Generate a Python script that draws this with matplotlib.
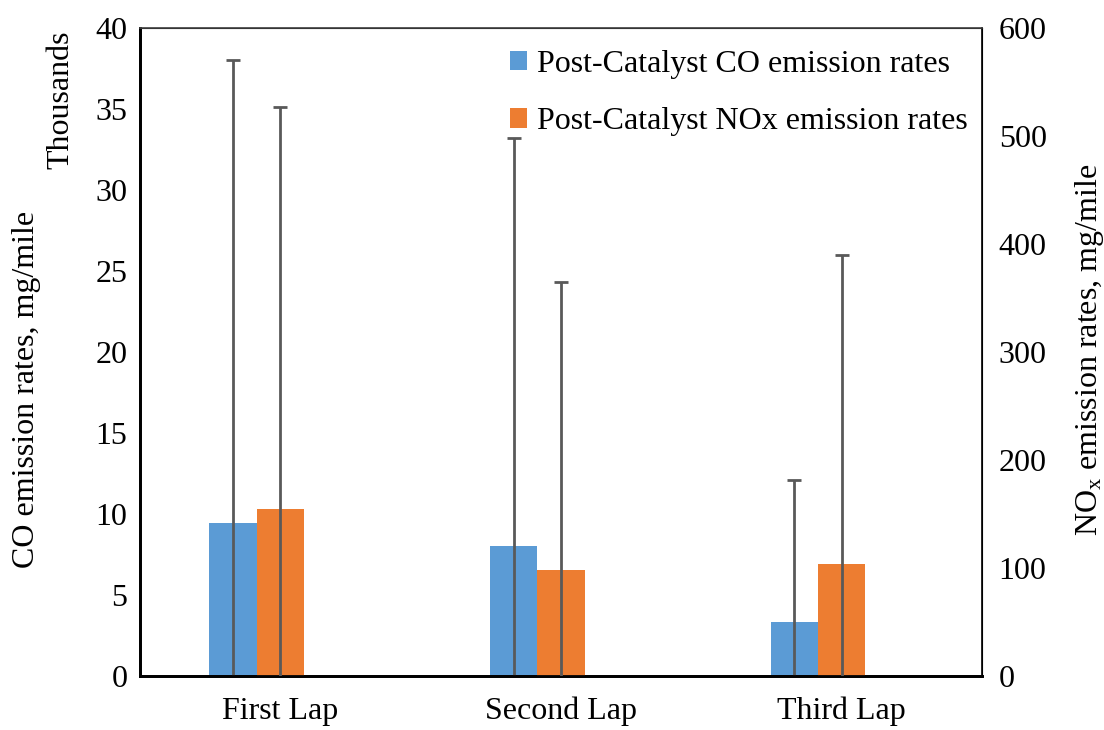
import matplotlib.pyplot as plt
import numpy as np

laps = ['First Lap', 'Second Lap', 'Third Lap']
co_rate = [9.45, 8.05, 3.31]          # thousands mg/mile
co_err = [28.55, 25.15, 8.8]
nox_rate = [155, 98.5, 104]           # mg/mile
nox_err = [372, 266.5, 286]

plt.rcParams['font.family'] = ['Liberation Serif', 'DejaVu Serif']
plt.rcParams['mathtext.fontset'] = 'custom'
plt.rcParams['mathtext.rm'] = 'Liberation Serif'
plt.rcParams['mathtext.it'] = 'Liberation Serif'

fs = 23
fig = plt.figure(figsize=(11.04, 7.3), dpi=100)
ax = fig.add_axes([0.1268, 0.074, 0.7627, 0.8876])
ax2 = ax.twinx()

x = np.arange(len(laps))
w = 0.169
blue = '#5B9BD5'
orange = '#ED7D31'
errc = '#595959'

# blue bar sits left of the category centre, orange bar on it
ax.bar(x - w, co_rate, w, color=blue, label='Post-Catalyst CO emission rates', zorder=2)
ax.errorbar(x - w, co_rate, yerr=co_err, fmt='none', ecolor=errc,
            elinewidth=2, capsize=5, capthick=2, zorder=3)
ax2.bar(x, nox_rate, w, color=orange, label='Post-Catalyst NOx emission rates', zorder=2)
ax2.errorbar(x, nox_rate, yerr=nox_err, fmt='none', ecolor=errc,
             elinewidth=2, capsize=5, capthick=2, zorder=3)

ax.set_xlim(-0.5, 2.5)
ax.set_ylim(0, 40)
ax2.set_ylim(0, 600)
ax.set_yticks(range(0, 41, 5))
ax2.set_yticks(range(0, 601, 100))
ax.set_xticks(x)
ax.set_xticklabels(laps)

for a in (ax, ax2):
    a.tick_params(length=0, labelsize=fs)
ax.tick_params(axis='y', pad=9)
ax2.tick_params(axis='y', pad=12)
ax.tick_params(axis='x', pad=15)

for s in ['left', 'bottom']:
    ax.spines[s].set_linewidth(2)
    ax2.spines[s].set_linewidth(2)
ax2.spines['right'].set_linewidth(1.2)
ax2.spines['top'].set_linewidth(1.2)
ax2.spines['top'].set_color('#404040')

fig.text(0.024, 0.466, 'CO emission rates, mg/mile', rotation=90, fontsize=fs,
         ha='center', va='center')
fig.text(0.987, 0.52, 'NO$_{x}$ emission rates, mg/mile', rotation=90, fontsize=fs,
         ha='center', va='center')
fig.text(0.055, 0.863, 'Thousands', rotation=90, fontsize=fs, ha='center', va='center')

h1, l1 = ax.get_legend_handles_labels()
h2, l2 = ax2.get_legend_handles_labels()
ax2.legend(h1 + h2, l1 + l2, loc='upper right', bbox_to_anchor=(1.0, 0.989),
           frameon=False, fontsize=fs,
           handlelength=0.55, handleheight=0.55, handletextpad=0.3,
           labelspacing=0.9, borderaxespad=0.15, borderpad=0.3)

fig.savefig('out.png', dpi=100)
